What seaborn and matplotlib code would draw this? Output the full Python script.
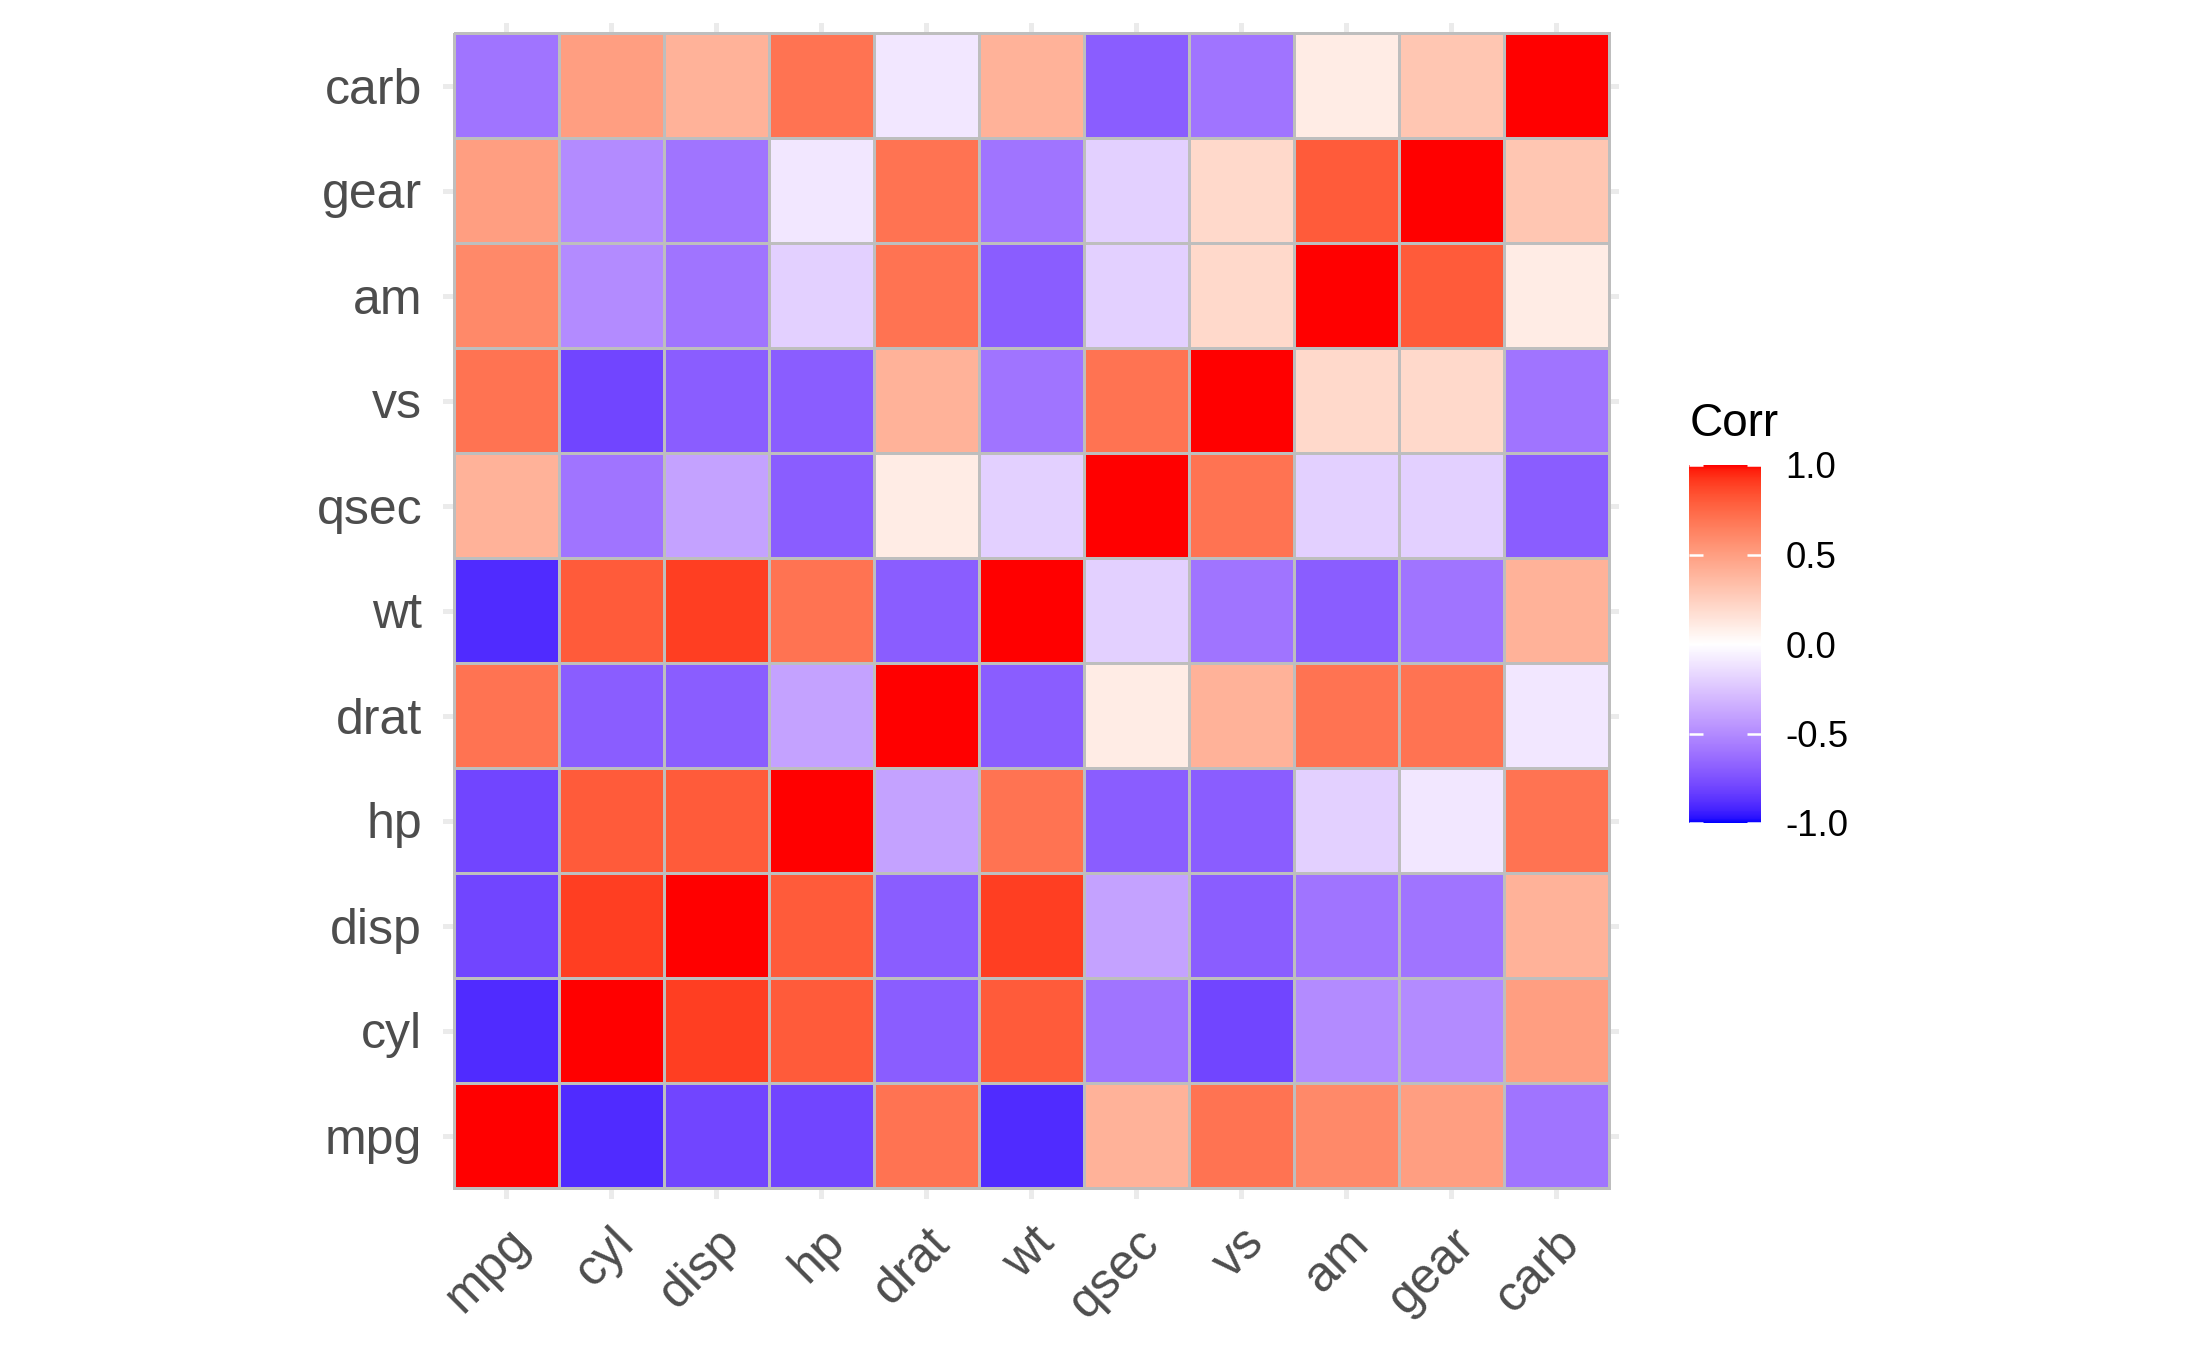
import numpy as np
import pandas as pd
import matplotlib
matplotlib.use('Agg')
import matplotlib.pyplot as plt
from matplotlib.colors import ListedColormap
import seaborn as sns

### data: correlation matrix (one decimal)
labels = ['mpg', 'cyl', 'disp', 'hp', 'drat', 'wt', 'qsec', 'vs', 'am', 'gear', 'carb']

mpg  = [1.0, -0.9, -0.8, -0.8, 0.7, -0.9, 0.4, 0.7, 0.6, 0.5, -0.6]
cyl  = [-0.9, 1.0, 0.9, 0.8, -0.7, 0.8, -0.6, -0.8, -0.5, -0.5, 0.5]
disp = [-0.8, 0.9, 1.0, 0.8, -0.7, 0.9, -0.4, -0.7, -0.6, -0.6, 0.4]
hp   = [-0.8, 0.8, 0.8, 1.0, -0.4, 0.7, -0.7, -0.7, -0.2, -0.1, 0.7]
drat = [0.7, -0.7, -0.7, -0.4, 1.0, -0.7, 0.1, 0.4, 0.7, 0.7, -0.1]
wt   = [-0.9, 0.8, 0.9, 0.7, -0.7, 1.0, -0.2, -0.6, -0.7, -0.6, 0.4]
qsec = [0.4, -0.6, -0.4, -0.7, 0.1, -0.2, 1.0, 0.7, -0.2, -0.2, -0.7]
vs   = [0.7, -0.8, -0.7, -0.7, 0.4, -0.6, 0.7, 1.0, 0.2, 0.2, -0.6]
am   = [0.6, -0.5, -0.6, -0.2, 0.7, -0.7, -0.2, 0.2, 1.0, 0.8, 0.1]
gear = [0.5, -0.5, -0.6, -0.1, 0.7, -0.6, -0.2, 0.2, 0.8, 1.0, 0.3]
carb = [-0.6, 0.5, 0.4, 0.7, -0.1, 0.4, -0.7, -0.6, 0.1, 0.3, 1.0]

cbar_ticks = [-1.0, -0.5, 0.0, 0.5, 1.0]
cbar_labels = ['-1.0', '-0.5', '0.0', '0.5', '1.0']

rows = [mpg, cyl, disp, hp, drat, wt, qsec, vs, am, gear, carb]
corr = pd.DataFrame(rows, index=labels, columns=labels)
corr_plot = corr.iloc[::-1]   # carb on top, mpg at the bottom


## --> blue-white-red gradient interpolated in CIELAB (like ggplot's gradient2)
WHITE_PT = np.array([0.95047, 1.0, 1.08883])
M = np.array([[0.4124, 0.3576, 0.1805],
              [0.2126, 0.7152, 0.0722],
              [0.0193, 0.1192, 0.9505]])
M_INV = np.linalg.inv(M)


def to_lab(rgb):
    c = np.asarray(rgb, dtype=float)
    lin = np.where(c <= 0.04045, c / 12.92, ((c + 0.055) / 1.055) ** 2.4)
    xyz = M @ lin / WHITE_PT
    d = 6 / 29
    f = np.where(xyz > d ** 3, np.cbrt(xyz), xyz / (3 * d * d) + 4 / 29)
    return np.array([116 * f[1] - 16, 500 * (f[0] - f[1]), 200 * (f[1] - f[2])])


def from_lab(lab):
    L, a, b = lab
    fy = (L + 16) / 116
    f = np.array([fy + a / 500, fy, fy - b / 200])
    d = 6 / 29
    xyz = np.where(f > d, f ** 3, 3 * d * d * (f - 4 / 29)) * WHITE_PT
    lin = M_INV @ xyz
    c = np.where(lin <= 0.0031308, 12.92 * lin, 1.055 * np.abs(lin) ** (1 / 2.4) - 0.055)
    return np.clip(c, 0, 1)


lab_blue, lab_white, lab_red = to_lab([0, 0, 1]), to_lab([1, 1, 1]), to_lab([1, 0, 0])
colors = []
for t in np.linspace(-1, 1, 401):
    if t < 0:
        lab = lab_white + (lab_blue - lab_white) * (-t)
    else:
        lab = lab_white + (lab_red - lab_white) * t
    colors.append(from_lab(lab))
cmap = ListedColormap(colors)


### figure
plt.rcParams['font.family'] = ['Liberation Sans', 'DejaVu Sans']
W, H = 2187, 1351
fig = plt.figure(figsize=(W / 300, H / 300), dpi=300)

ax = fig.add_axes([443 / W, 1 - 1198.5 / H, 1176 / W, 1176 / H])
cax = fig.add_axes([1689 / W, 1 - 823 / H, 72 / W, 358 / H])

sns.heatmap(corr_plot, cmap=cmap, vmin=-1, vmax=1, linewidths=0.6, linecolor='#BEBEBE',
            ax=ax, cbar_ax=cax)

ax.set_xlim(-0.1, 11.1)
ax.set_ylim(11.1, -0.1)
for s in ax.spines.values():
    s.set_visible(False)
ax.grid(True, color='#EBEBEB', linewidth=1.2)
ax.set_axisbelow(True)

ax.set_xticklabels(corr_plot.columns, rotation=45, ha='right', va='top', rotation_mode='anchor')
ax.set_yticklabels(corr_plot.index, rotation=0, va='center_baseline')
ax.tick_params(length=0, pad=5, labelsize=12, labelcolor='#4D4D4D')
ax.set_xlabel('')
ax.set_ylabel('')

## colorbar
cbar = ax.collections[0].colorbar
cbar.outline.set_visible(False)
cbar.set_ticks(cbar_ticks)
cbar.set_ticklabels(cbar_labels)
cax.tick_params(axis='y', which='major', direction='in', length=3.4, width=0.6, color='white',
                left=True, right=True, labelsize=8.8, labelcolor='black', pad=5.8)
cax.minorticks_off()

fig.text(1690 / W, 1 - 436 / H, 'Corr', fontsize=11, color='black', ha='left', va='baseline')

fig.savefig('out.png', dpi=300)
